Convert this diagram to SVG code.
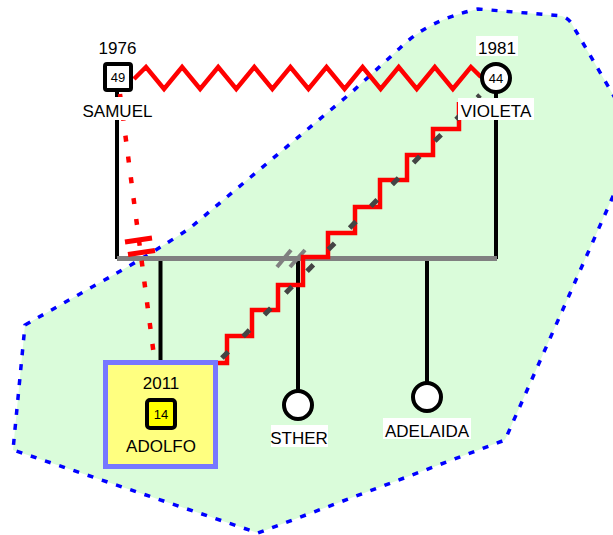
<svg xmlns="http://www.w3.org/2000/svg" width="613" height="535" viewBox="0 0 613 535">
<style>
text{font-family:"Liberation Sans",Arial,sans-serif;fill:#000;text-anchor:middle}
.lbl{font-size:17px}
.age{font-size:13px}
.bg{fill:#fff}
.ln{stroke:#000;stroke-width:4;fill:none}
.red{stroke:#ff0000;stroke-width:4.5;fill:none}
</style>
<rect width="613" height="535" fill="#fff"/>
<g id="group-region">
<path d="M25,325 L92,287 Q150,255 190,228 L352,92 L400,48 Q428,20 478,9 L562,16 Q570,19 573,26 L622,110 L618,185 L505,440 L258,533 L13,450 Z" fill="#dafcda" stroke="#0000ff" stroke-width="3.5" stroke-dasharray="6 9"/>
</g>
<g id="connectors">
<line class="ln" x1="117" y1="92" x2="117" y2="259"/>
<line class="ln" x1="496" y1="92" x2="496" y2="259"/>
<line class="ln" x1="160.5" y1="259" x2="160.5" y2="361"/>
<line class="ln" x1="298" y1="259" x2="298" y2="391"/>
<line class="ln" x1="427" y1="259" x2="427" y2="382"/>
<line x1="117" y1="258.5" x2="497" y2="258.5" stroke="#808080" stroke-width="5"/>
<path class="red" d="M134,79 L146,67 L164.05,89 L182.1,67 L200.15,89 L218.2,67 L236.25,89 L254.3,67 L272.35,89 L290.4,67 L308.45,89 L326.5,67 L344.55,89 L362.6,67 L380.65,89 L398.7,67 L416.75,89 L434.8,67 L452.85,89 L470.9,67 L481,77"/>
<line x1="120" y1="94" x2="154" y2="356" stroke="#ff0000" stroke-width="4.5" stroke-dasharray="6 15"/>
<line x1="125" y1="242" x2="152" y2="238" stroke="#ff0000" stroke-width="5"/>
<line x1="128" y1="254.5" x2="155" y2="250.5" stroke="#ff0000" stroke-width="5"/>
<line x1="277" y1="267" x2="291" y2="250" stroke="#808080" stroke-width="4"/>
<line x1="290" y1="267" x2="305" y2="250" stroke="#808080" stroke-width="4"/>
<path class="red" d="M216,363 H227 V336 H252 V310 H278 V285 H303 V257 H328 V233 H355 V207 H380 V180 H407 V155 H433 V129 H459 V102"/>
<line x1="221.9" y1="358.1" x2="480" y2="95" stroke="#444" stroke-width="5" stroke-dasharray="9 21.4"/>
</g>
<g id="node-samuel">
<rect class="bg" x="96" y="38" width="43" height="19"/>
<text class="lbl" x="117.5" y="54">1976</text>
<rect x="105" y="64" width="26" height="26" rx="2" fill="#fff" stroke="#000" stroke-width="4"/>
<text class="age" x="118" y="82">49</text>
<rect class="bg" x="80" y="97" width="75" height="23"/>
<text class="lbl" x="117.5" y="117">SAMUEL</text>
</g>
<g id="node-violeta">
<rect class="bg" x="476" y="36" width="42" height="20"/>
<text class="lbl" x="497" y="54">1981</text>
<circle cx="496" cy="78" r="14" fill="#fff" stroke="#000" stroke-width="4"/>
<text class="age" x="496" y="83">44</text>
<rect class="bg" x="458" y="98" width="76" height="22"/>
<text class="lbl" x="496" y="117">VIOLETA</text>
</g>
<g id="node-adolfo">
<rect x="105.5" y="362.5" width="110" height="104" fill="#ffff80" stroke="#7777ff" stroke-width="5"/>
<text class="lbl" x="161" y="389">2011</text>
<rect x="147" y="400" width="28" height="28" rx="3" fill="#ffff00" stroke="#000" stroke-width="4"/>
<text class="age" x="161" y="419">14</text>
<text class="lbl" x="161" y="452">ADOLFO</text>
</g>
<g id="node-sther">
<circle cx="298" cy="405" r="14" fill="#fff" stroke="#000" stroke-width="4"/>
<rect class="bg" x="271" y="425" width="57" height="22"/>
<text class="lbl" x="299" y="444">STHER</text>
</g>
<g id="node-adelaida">
<circle cx="427" cy="397" r="14" fill="#fff" stroke="#000" stroke-width="4"/>
<rect class="bg" x="383" y="418" width="88" height="21"/>
<text class="lbl" x="427" y="437">ADELAIDA</text>
</g>
</svg>
